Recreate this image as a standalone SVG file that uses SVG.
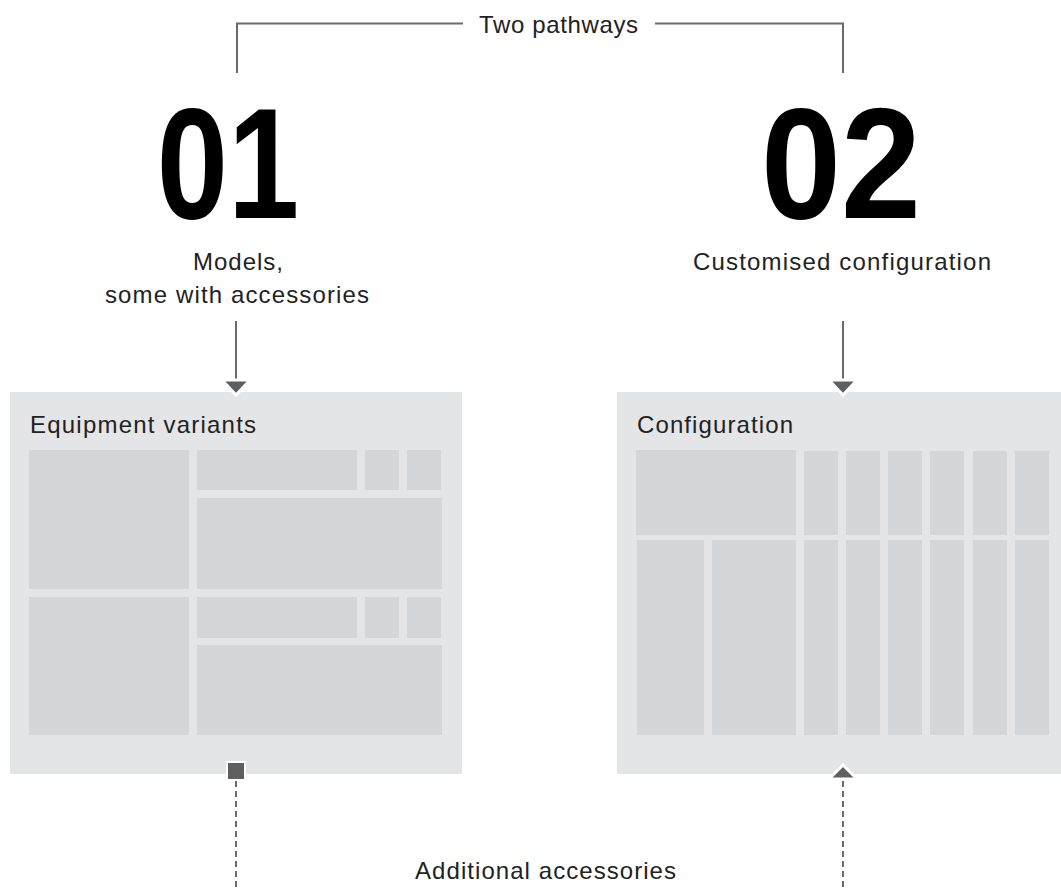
<svg xmlns="http://www.w3.org/2000/svg" width="1061" height="888" viewBox="0 0 1061 888">
<style>
.lbl{font-family:"Liberation Sans",Arial,sans-serif;font-size:24px;fill:#222;}
.num{font-family:"Liberation Sans",Arial,sans-serif;font-size:158px;font-weight:bold;fill:#000;text-anchor:middle;}
.panel{fill:#e4e5e7;}
.cell{fill:#d4d7da;}
.ln{stroke:#6a6a6a;stroke-width:2;fill:none;}
.dash{stroke:#6a6a6a;stroke-width:2;fill:none;stroke-dasharray:6 4;}
.head{fill:#5f5f5f;stroke:#fff;stroke-width:3;stroke-linejoin:miter;}
</style>
<rect width="1061" height="888" fill="#fff"/>

<g id="connectors">
  <path class="ln" d="M237 73 V23.5 H463"/>
  <path class="ln" d="M655 23.5 H843 V73"/>
  <line class="ln" x1="236" y1="321" x2="236" y2="380"/>
  <line class="ln" x1="843" y1="321" x2="843" y2="380"/>
  <line class="dash" x1="236" y1="781" x2="236" y2="888"/>
  <line class="dash" x1="843" y1="781" x2="843" y2="888"/>
</g>

<g id="title">
  <text class="lbl" x="479" y="33" textLength="159" lengthAdjust="spacing">Two pathways</text>
</g>

<g id="pathway1">
  <text class="num" transform="translate(228,218) scale(0.81,1)" x="0" y="0">01</text>
  <text class="lbl" x="193" y="270" textLength="90" lengthAdjust="spacing">Models,</text>
  <text class="lbl" x="105" y="303" textLength="264" lengthAdjust="spacing">some with accessories</text>
</g>

<g id="pathway2">
  <text class="num" transform="translate(841,218) scale(0.91,1)" x="0" y="0">02</text>
  <text class="lbl" x="693" y="270" textLength="298" lengthAdjust="spacing">Customised configuration</text>
</g>

<g id="equipment-variants">
  <rect class="panel" x="10" y="392" width="452" height="382"/>
  <text class="lbl" x="30" y="433" textLength="226" lengthAdjust="spacing">Equipment variants</text>
  <rect class="cell" x="29" y="450" width="160" height="139"/>
  <rect class="cell" x="197" y="450" width="160" height="40"/>
  <rect class="cell" x="365" y="450" width="34" height="40"/>
  <rect class="cell" x="407" y="450" width="34" height="40"/>
  <rect class="cell" x="197" y="498" width="245" height="91"/>
  <rect class="cell" x="29" y="597" width="160" height="138"/>
  <rect class="cell" x="197" y="597" width="160" height="41"/>
  <rect class="cell" x="365" y="597" width="34" height="41"/>
  <rect class="cell" x="407" y="597" width="34" height="41"/>
  <rect class="cell" x="197" y="645" width="245" height="90"/>
</g>

<g id="configuration">
  <rect class="panel" x="617" y="392" width="452" height="382"/>
  <text class="lbl" x="637" y="433" textLength="156" lengthAdjust="spacing">Configuration</text>
  <rect class="cell" x="636" y="450" width="160" height="85"/>
  <rect class="cell" x="637" y="540" width="67" height="195"/>
  <rect class="cell" x="712" y="540" width="84" height="195"/>
  <rect class="cell" x="804" y="451" width="34" height="84"/>
  <rect class="cell" x="846" y="451" width="34" height="84"/>
  <rect class="cell" x="888" y="451" width="34" height="84"/>
  <rect class="cell" x="930" y="451" width="34" height="84"/>
  <rect class="cell" x="973" y="451" width="34" height="84"/>
  <rect class="cell" x="1015" y="451" width="34" height="84"/>
  <rect class="cell" x="804" y="540" width="34" height="195"/>
  <rect class="cell" x="846" y="540" width="34" height="195"/>
  <rect class="cell" x="888" y="540" width="34" height="195"/>
  <rect class="cell" x="930" y="540" width="34" height="195"/>
  <rect class="cell" x="973" y="540" width="34" height="195"/>
  <rect class="cell" x="1015" y="540" width="34" height="195"/>
</g>

<g id="markers">
  <polygon class="head" points="222,380 250,380 236,395"/>
  <polygon class="head" points="829,380 857,380 843,395"/>
  <rect x="226" y="761" width="20" height="20" fill="#fff"/>
  <rect x="228" y="763" width="16" height="16" fill="#5f5f5f"/>
  <polygon class="head" points="829,779 857,779 843,765"/>
</g>

<g id="additional-accessories">
  <text class="lbl" x="415" y="879" textLength="261" lengthAdjust="spacing">Additional accessories</text>
</g>
</svg>
